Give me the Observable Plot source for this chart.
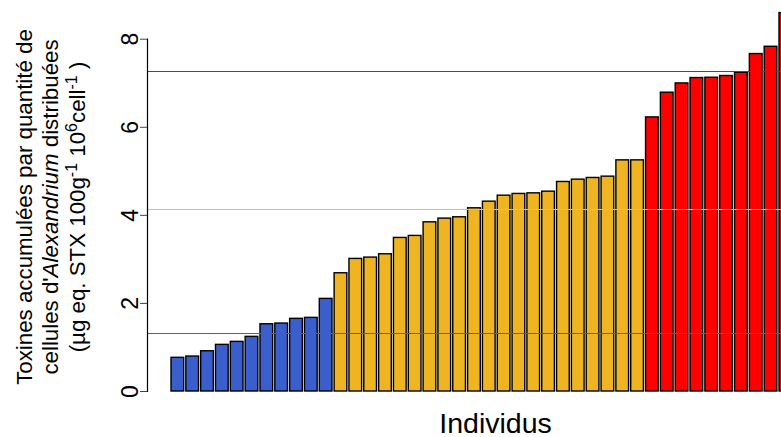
<!DOCTYPE html>
<html><head><meta charset="utf-8">
<script src="https://cdn.jsdelivr.net/npm/d3@7"></script>
<script src="https://cdn.jsdelivr.net/npm/@observablehq/plot@0.6"></script>
<style>
html,body{margin:0;padding:0;background:#fff;overflow:hidden;}
#chart svg{overflow:hidden;display:block;}
</style></head><body><div id="chart"></div>
<script>
// Values (sorted toxin accumulation per individual)
const groupLow  = [0.765, 0.794, 0.914, 1.059, 1.127, 1.241, 1.527, 1.543, 1.650, 1.672, 2.103];
const groupMid  = [2.685, 3.011, 3.041, 3.116, 3.487, 3.533, 3.842, 3.926, 3.956, 4.160, 4.311,
                   4.447, 4.486, 4.500, 4.538, 4.758, 4.811, 4.849, 4.879, 5.249, 5.249];
const groupHigh = [6.224, 6.785, 6.996, 7.118, 7.125, 7.164, 7.238, 7.663, 7.828, 8.593];
const groupNames = ["faible", "moyen", "fort"];
const barColors  = ["#3A5FCD", "#EEB422", "#FF0000"];
const meanColors = ["#3A5FCD", "#F5C030", "#FF0000"];
const yTicks = [0, 2, 4, 6, 8];

const groups = [groupLow, groupMid, groupHigh];
const bars = [];
groups.forEach((arr, gi) => arr.forEach(v => bars.push({g: groupNames[gi], v})));
bars.forEach((d, i) => d.i = i);
const meanRules = groups.map((arr, gi) =>
  Plot.ruleY([d3.mean(arr)], {stroke: meanColors[gi], strokeWidth: 1, shapeRendering: "crispEdges"}));

const font = "'Liberation Sans', Arial, Helvetica, sans-serif";

const plot = Plot.plot({
  width: 781, height: 437,
  marginLeft: 147, marginRight: 0, marginTop: 38.7, marginBottom: 46,
  style: {fontFamily: font, background: "#fff", color: "#000"},
  x: {type: "band", domain: bars.map(d => d.i), range: [171, 791.7], paddingInner: 0.144, paddingOuter: 0, align: 0, round: false, axis: null},
  y: {domain: [0, 8], axis: null},
  color: {domain: groupNames, range: barColors},
  marks: [
    Plot.barY(bars, {x: "i", y: "v", fill: "g", stroke: "#000", strokeWidth: 1.4}),
    ...meanRules,
    Plot.frame({anchor: "left", stroke: "#000", strokeWidth: 1.2}),
    Plot.axisY({ticks: yTicks, tickSize: 7, tickPadding: 3, tickRotate: -90, fontSize: 23, label: null, stroke: "#444"}),
    Plot.text(["Individus"], {frameAnchor: "bottom", text: d => d, dx: 31, dy: 41, lineAnchor: "bottom", fontSize: 28.5, fill: "#000"})
  ]
});
document.getElementById("chart").appendChild(plot);

// Rotated multi-line y-axis title with italic and superscripts
const svg = d3.select(plot);
const g = svg.append("g").attr("font-family", font).attr("font-size", 22.3).attr("fill", "#000").attr("text-anchor", "middle");
const cy = 207;
const t1 = g.append("text").attr("transform", `translate(32,${cy}) rotate(-90)`);
t1.text("Toxines accumulées par quantité de");
const t2 = g.append("text").attr("transform", `translate(58,${cy}) rotate(-90)`);
t2.append("tspan").text("cellules d'");
t2.append("tspan").attr("font-style", "italic").text("Alexandrium");
t2.append("tspan").text(" distribuées");
const t3 = g.append("text").attr("transform", `translate(85,${cy}) rotate(-90)`);
const parts = [["(µg eq. STX 100g", 0], ["-1", 1], [" 10", 0], ["6", 1], ["cell", 0], ["-1", 1], [" )", 0]];
let sup = false;
parts.forEach(([s, isSup]) => {
  const ts = t3.append("tspan").text(s);
  if (isSup && !sup) { ts.attr("dy", -8).attr("font-size", 16); sup = true; }
  else if (isSup) { ts.attr("font-size", 16); }
  else if (!isSup && sup) { ts.attr("dy", 8); sup = false; }
});
</script></body></html>
